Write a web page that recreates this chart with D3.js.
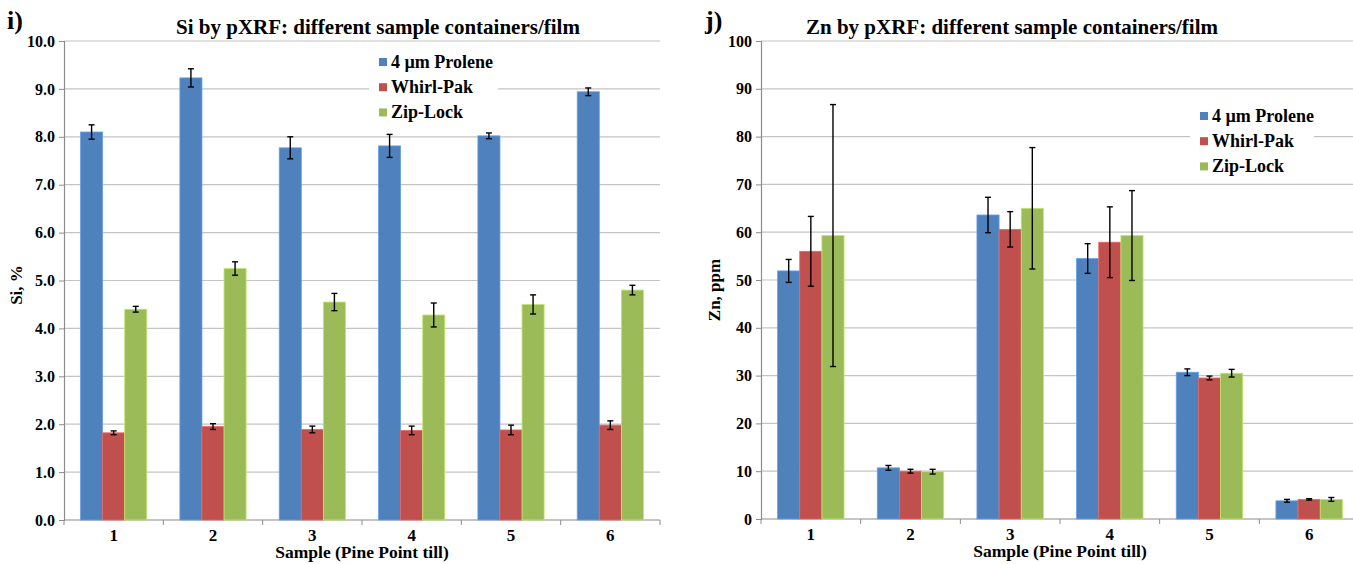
<!DOCTYPE html>
<html>
<head>
<meta charset="utf-8">
<script src="https://cdn.jsdelivr.net/npm/d3@7"></script>
<style>
  body { margin: 0; background: #fff; }
  text { font-family: "Liberation Serif", "Times New Roman", serif; font-weight: bold; fill: #000; }
</style>
</head>
<body>
<script>
var svgWidth = 1353;
var svgHeight = 564;

// categories and series
var samples = ["1", "2", "3", "4", "5", "6"];
var seriesNames = ["4 \u00b5m Prolene", "Whirl-Pak", "Zip-Lock"];
var seriesColors = ["#4f81bd", "#c0504d", "#9bbb59"];

// Si, %
var siProlene = [8.10, 9.23, 7.77, 7.81, 8.02, 8.94];
var siProleneErr = [0.15, 0.19, 0.23, 0.24, 0.06, 0.08];
var siWhirl = [1.82, 1.95, 1.89, 1.87, 1.88, 1.98];
var siWhirlErr = [0.04, 0.06, 0.07, 0.09, 0.10, 0.09];
var siZip = [4.40, 5.25, 4.55, 4.28, 4.50, 4.80];
var siZipErr = [0.06, 0.14, 0.18, 0.25, 0.20, 0.10];
var siTicks = [0, 1, 2, 3, 4, 5, 6, 7, 8, 9, 10];

// Zn, ppm
var znProlene = [51.9, 10.7, 63.6, 54.5, 30.7, 3.8];
var znProleneErr = [2.4, 0.5, 3.7, 3.1, 0.7, 0.3];
var znWhirl = [56.0, 10.0, 60.6, 57.9, 29.5, 4.1];
var znWhirlErr = [7.3, 0.4, 3.7, 7.4, 0.4, 0.15];
var znZip = [59.3, 9.9, 65.0, 59.3, 30.5, 4.1];
var znZipErr = [27.4, 0.5, 12.7, 9.4, 0.8, 0.4];
var znTicks = [0, 10, 20, 30, 40, 50, 60, 70, 80, 90, 100];

var svg = d3.select("body")
  .append("svg")
  .attr("width", svgWidth)
  .attr("height", svgHeight);

function drawChart(cfg) {
  var g = svg.append("g");

  var xScale = d3.scaleBand()
    .domain(samples)
    .range([cfg.left, cfg.right])
    .paddingInner(1 / 3)
    .paddingOuter(1 / 6);

  var xInner = d3.scaleBand()
    .domain([0, 1, 2])
    .range([0, xScale.bandwidth()]);

  var yScale = d3.scaleLinear()
    .domain([0, cfg.yMax])
    .range([cfg.bottom, cfg.top]);

  // gridlines
  g.selectAll(".grid")
    .data(cfg.ticks.slice(1))
    .enter()
    .append("line")
    .attr("x1", cfg.left)
    .attr("x2", cfg.right)
    .attr("y1", d => yScale(d))
    .attr("y2", d => yScale(d))
    .attr("stroke", "#c4c4c4")
    .attr("stroke-width", 1.2);

  // y axis
  var yAxis = d3.axisLeft(yScale)
    .tickValues(cfg.ticks)
    .tickFormat(cfg.fmt)
    .tickSize(5)
    .tickPadding(4);
  var yg = g.append("g")
    .attr("transform", `translate(${cfg.left},0)`)
    .call(yAxis);
  yg.select(".domain").attr("stroke", "#8c8c8c").attr("stroke-width", 1.2);
  yg.selectAll(".tick line").attr("stroke", "#8c8c8c");
  yg.selectAll("text")
    .style("font-family", "'Liberation Serif', serif")
    .style("font-weight", "bold")
    .style("font-size", "16px")
    .attr("fill", "#000");

  // x axis line with tick marks between categories
  g.append("line")
    .attr("x1", cfg.left).attr("x2", cfg.right)
    .attr("y1", cfg.bottom).attr("y2", cfg.bottom)
    .attr("stroke", "#8c8c8c").attr("stroke-width", 1.2);
  var step = xScale.step();
  g.selectAll(".xtick")
    .data(d3.range(samples.length + 1))
    .enter()
    .append("line")
    .attr("x1", i => cfg.left + i * step)
    .attr("x2", i => cfg.left + i * step)
    .attr("y1", cfg.bottom)
    .attr("y2", cfg.bottom + 5)
    .attr("stroke", "#8c8c8c");
  g.selectAll(".xlabel")
    .data(samples)
    .enter()
    .append("text")
    .attr("x", d => xScale(d) + xScale.bandwidth() / 2)
    .attr("y", cfg.bottom + 21)
    .attr("text-anchor", "middle")
    .style("font-size", "17px")
    .text(d => d);

  // bars
  cfg.series.forEach(function(s, si) {
    var rows = samples.map((c, i) => ({ cat: c, v: s.values[i], e: s.errors[i] }));
    g.selectAll(".bar" + si)
      .data(rows)
      .enter()
      .append("rect")
      .attr("x", d => xScale(d.cat) + xInner(si))
      .attr("y", d => yScale(d.v))
      .attr("width", xInner.bandwidth())
      .attr("height", d => cfg.bottom - yScale(d.v))
      .attr("fill", seriesColors[si])
      .attr("stroke", d3.color(seriesColors[si]).brighter(0.6))
      .attr("stroke-width", 0.8);

    var cx = d => xScale(d.cat) + xInner(si) + xInner.bandwidth() / 2;
    var eg = g.selectAll(".err" + si)
      .data(rows)
      .enter()
      .append("g");
    eg.append("line")
      .attr("x1", cx).attr("x2", cx)
      .attr("y1", d => yScale(d.v + d.e))
      .attr("y2", d => yScale(d.v - d.e))
      .attr("stroke", "#000").attr("stroke-width", 1.4);
    [1, -1].forEach(function(sign) {
      eg.append("line")
        .attr("x1", d => cx(d) - 3).attr("x2", d => cx(d) + 3)
        .attr("y1", d => yScale(d.v + sign * d.e))
        .attr("y2", d => yScale(d.v + sign * d.e))
        .attr("stroke", "#000").attr("stroke-width", 1.4);
    });
  });

  // legend (white box hides the gridline behind it)
  var lg = g.append("g").attr("transform", `translate(${cfg.legX},${cfg.legY})`);
  lg.append("rect")
    .attr("x", -10).attr("y", -18)
    .attr("width", cfg.legW).attr("height", 76)
    .attr("fill", "#fff");
  seriesNames.forEach(function(name, i) {
    lg.append("rect")
      .attr("x", 0).attr("y", i * 25.2 - 10)
      .attr("width", 8).attr("height", 8)
      .attr("fill", seriesColors[i]);
    lg.append("text")
      .attr("x", 12).attr("y", i * 25.2)
      .style("font-size", "18px")
      .text(name);
  });

  // titles
  g.append("text")
    .attr("x", cfg.titleX).attr("y", 34)
    .attr("text-anchor", "middle")
    .style("font-size", "21px")
    .text(cfg.title);
  g.append("text")
    .attr("x", cfg.tagX).attr("y", 29)
    .style("font-size", "26px")
    .text(cfg.tag);
  g.append("text")
    .attr("transform", `translate(${cfg.yTitleX},${cfg.yTitleY}) rotate(-90)`)
    .attr("text-anchor", "middle")
    .style("font-size", "17px")
    .text(cfg.yTitle);
  g.append("text")
    .attr("x", (cfg.left + cfg.right) / 2).attr("y", cfg.bottom + 38)
    .attr("text-anchor", "middle")
    .style("font-size", "17.5px")
    .text("Sample (Pine Point till)");
}

drawChart({
  left: 64, right: 660, top: 41, bottom: 520,
  yMax: 10, ticks: siTicks, fmt: d3.format(".1f"),
  series: [
    { values: siProlene, errors: siProleneErr },
    { values: siWhirl, errors: siWhirlErr },
    { values: siZip, errors: siZipErr }
  ],
  legX: 379, legY: 68, legW: 129,
  title: "Si by pXRF: different sample containers/film", titleX: 378,
  tag: "i)", tagX: 7,
  yTitle: "Si, %", yTitleX: 22, yTitleY: 285
});

drawChart({
  left: 761, right: 1359, top: 41, bottom: 519,
  yMax: 100, ticks: znTicks, fmt: d3.format("d"),
  series: [
    { values: znProlene, errors: znProleneErr },
    { values: znWhirl, errors: znWhirlErr },
    { values: znZip, errors: znZipErr }
  ],
  legX: 1200, legY: 122, legW: 124,
  title: "Zn by pXRF: different sample containers/film", titleX: 1012,
  tag: "j)", tagX: 705,
  yTitle: "Zn, ppm", yTitleX: 720, yTitleY: 290
});
</script>
</body>
</html>
